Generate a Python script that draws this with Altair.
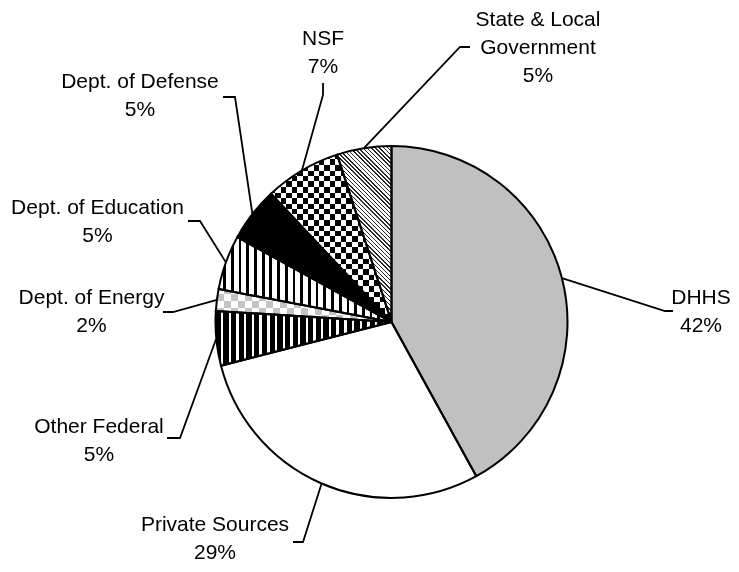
import math
import altair as alt
import pandas as pd

# ---------------- data ----------------
names = ["DHHS", "Private Sources", "Other Federal", "Dept. of Energy",
         "Dept. of Education", "Dept. of Defense", "NSF", "State & Local Government"]
values = [42, 29, 5, 2, 5, 5, 7, 5]
label_text = ["DHHS", "Private Sources", "Other Federal", "Dept. of Energy",
              "Dept. of Education", "Dept. of Defense", "NSF", "State & Local|Government"]

# ---------------- layout (page pixels) ----------------
OFF = 8
CX, CY, R = 391.5, 322.0, 176.0
FONT = "Liberation Sans"
label_pos = {  # centre x, first baseline y
    "DHHS": (701, 304),
    "Private Sources": (215, 531),
    "Other Federal": (99, 433),
    "Dept. of Energy": (91.5, 304),
    "Dept. of Education": (97.5, 214),
    "Dept. of Defense": (140, 88),
    "NSF": (323, 45),
    "State & Local Government": (538, 26),
}
leader_pts = {  # elbow, end
    "DHHS": ((665, 311), (673, 311)),
    "Private Sources": ((303, 542), (293, 542)),
    "Other Federal": ((180, 438), (167, 438)),
    "Dept. of Energy": ((173, 312), (163, 312)),
    "Dept. of Education": ((200, 221), (188, 221)),
    "Dept. of Defense": ((235, 97), (223, 97)),
    "NSF": ((323, 95), (323, 83)),
    "State & Local Government": ((460, 47), (470, 47)),
}

rows = []
for i, (n, v, t) in enumerate(zip(names, values, label_text)):
    lx, ly = label_pos[n]
    (ex, ey), (ox, oy) = leader_pts[n]
    rows.append(dict(name=n, value=v, idx=i, txt=f"{t}|{v}%",
                     lx=lx - OFF, ly=ly - OFF, ex=ex - OFF, ey=ey - OFF,
                     ox=ox - OFF, oy=oy - OFF))
df = pd.DataFrame(rows)

cx, cy = CX - OFF, CY - OFF
total = sum(values)


# ---------------- pattern helpers (styling) ----------------
def slice_bbox(i):
    a0 = sum(values[:i]) / total
    a1 = sum(values[:i + 1]) / total
    pts = [(CX, CY)]
    n = 400
    for k in range(n + 1):
        a = 2 * math.pi * (a0 + (a1 - a0) * k / n)
        pts.append((CX + R * math.sin(a), CY - R * math.cos(a)))
    xs = [p[0] for p in pts]
    ys = [p[1] for p in pts]
    return min(xs), max(xs), min(ys), max(ys)


def stops(lo, hi, period, first, c1, c2):
    span = hi - lo
    out = []
    k = math.floor(lo / period) - 1
    while k * period < hi:
        s = k * period
        for a, b, c in ((s, s + first, c1), (s + first, s + period, c2)):
            ta = (a - lo) / span
            tb = (b - lo) / span
            if tb <= 0 or ta >= 1:
                continue
            out.append({"offset": round(max(ta, 0.0), 5), "color": c})
            out.append({"offset": round(min(tb, 1.0), 5), "color": c})
        k += 1
    return out


def vstripes(name, period, first, c1, c2):
    x0, x1, y0, y1 = slice_bbox(names.index(name))
    return {"gradient": "linear", "x1": 0, "y1": 0, "x2": 1, "y2": 0,
            "stops": stops(x0, x1, period, first, c1, c2)}


def hstripes(name, period, first, c1, c2):
    x0, x1, y0, y1 = slice_bbox(names.index(name))
    return {"gradient": "linear", "x1": 0, "y1": 0, "x2": 0, "y2": 1,
            "stops": stops(y0, y1, period, first, c1, c2)}


def dstripes(name, period, first, c1, c2):
    x0, x1, y0, y1 = slice_bbox(names.index(name))
    w, h = x1 - x0, y1 - y0
    k = (w + h) / (w * w + h * h)
    return {"gradient": "linear", "x1": 0, "y1": 1, "x2": k * w, "y2": 1 - k * h,
            "stops": stops(x0 - y1, x1 - y0, period, first, c1, c2)}


CLEAR = "rgba(255,255,255,0)"

# ---------------- chart ----------------
theta_scale = alt.Scale(domain=[0, 100], range=[0, 2 * math.pi])

base = alt.Chart(df).transform_joinaggregate(
    total="sum(value)"
).transform_window(
    cum="sum(value)", sort=[alt.SortField("idx")], frame=[None, 0]
).transform_calculate(
    start="(datum.cum - datum.value) / datum.total * 100",
    end="datum.cum / datum.total * 100",
    mid="(datum.cum - datum.value / 2) / datum.total * 100",
)


def arc(name, **mark):
    src = base if name is None else base.transform_filter(
        alt.FieldEqualPredicate(field="name", equal=name))
    return src.mark_arc(radius=R, **mark).encode(
        theta=alt.Theta("start:Q", scale=theta_scale, stack=None),
        theta2="end:Q",
        x=alt.value(cx),
        y=alt.value(cy),
    )


layers = [
    arc("DHHS", fill="#c0c0c0"),
    arc("Private Sources", fill="white"),
    arc("Other Federal", fill=vstripes("Other Federal", 7.7, 5.4, "black", "white")),
    arc("Dept. of Energy", fill=vstripes("Dept. of Energy", 14, 7, "black", "white")),
    arc("Dept. of Energy", fill=hstripes("Dept. of Energy", 14, 7, "white", CLEAR), blend="difference"),
    arc("Dept. of Energy", fill="white", fillOpacity=0.77),
    arc("Dept. of Education", fill=vstripes("Dept. of Education", 7.7, 2.7, "black", "white")),
    arc("Dept. of Defense", fill="black"),
    arc("NSF", fill=vstripes("NSF", 11, 5.5, "black", "white")),
    arc("NSF", fill=hstripes("NSF", 11, 5.5, "white", CLEAR), blend="difference"),
    arc("State & Local Government", fill=dstripes("State & Local Government", 4.2, 1.5, "#2a2a2a", "white")),
    arc(None, fillOpacity=0, stroke="black", strokeWidth=2),
]

leader = base.transform_calculate(
    sx=f"{cx} + {R} * sin(2 * PI * datum.mid / 100)",
    sy=f"{cy} - {R} * cos(2 * PI * datum.mid / 100)",
).transform_fold(
    ["sx", "ex", "ox"], as_=["k", "X"]
).transform_calculate(
    Y="datum.k === 'sx' ? datum.sy : (datum.k === 'ex' ? datum.ey : datum.oy)",
    ord="indexof(['sx', 'ex', 'ox'], datum.k)",
).mark_line(color="black", strokeWidth=1.8).encode(
    x=alt.X("X:Q", scale=None, axis=None),
    y=alt.Y("Y:Q", scale=None, axis=None),
    detail="name:N",
    order="ord:Q",
)

labels = base.transform_calculate(
    lines="split(datum.txt, '|')"
).mark_text(
    font=FONT, fontSize=21, align="center", baseline="alphabetic",
    lineHeight=28, color="black"
).encode(
    x=alt.X("lx:Q", scale=None, axis=None),
    y=alt.Y("ly:Q", scale=None, axis=None),
    text="lines:N",
)

chart = alt.layer(*layers, leader, labels).properties(
    width=723, height=556, padding=0, autosize="none"
).configure_view(strokeWidth=0)

chart.save("out.html", embed_options={"renderer": "svg", "actions": False})
